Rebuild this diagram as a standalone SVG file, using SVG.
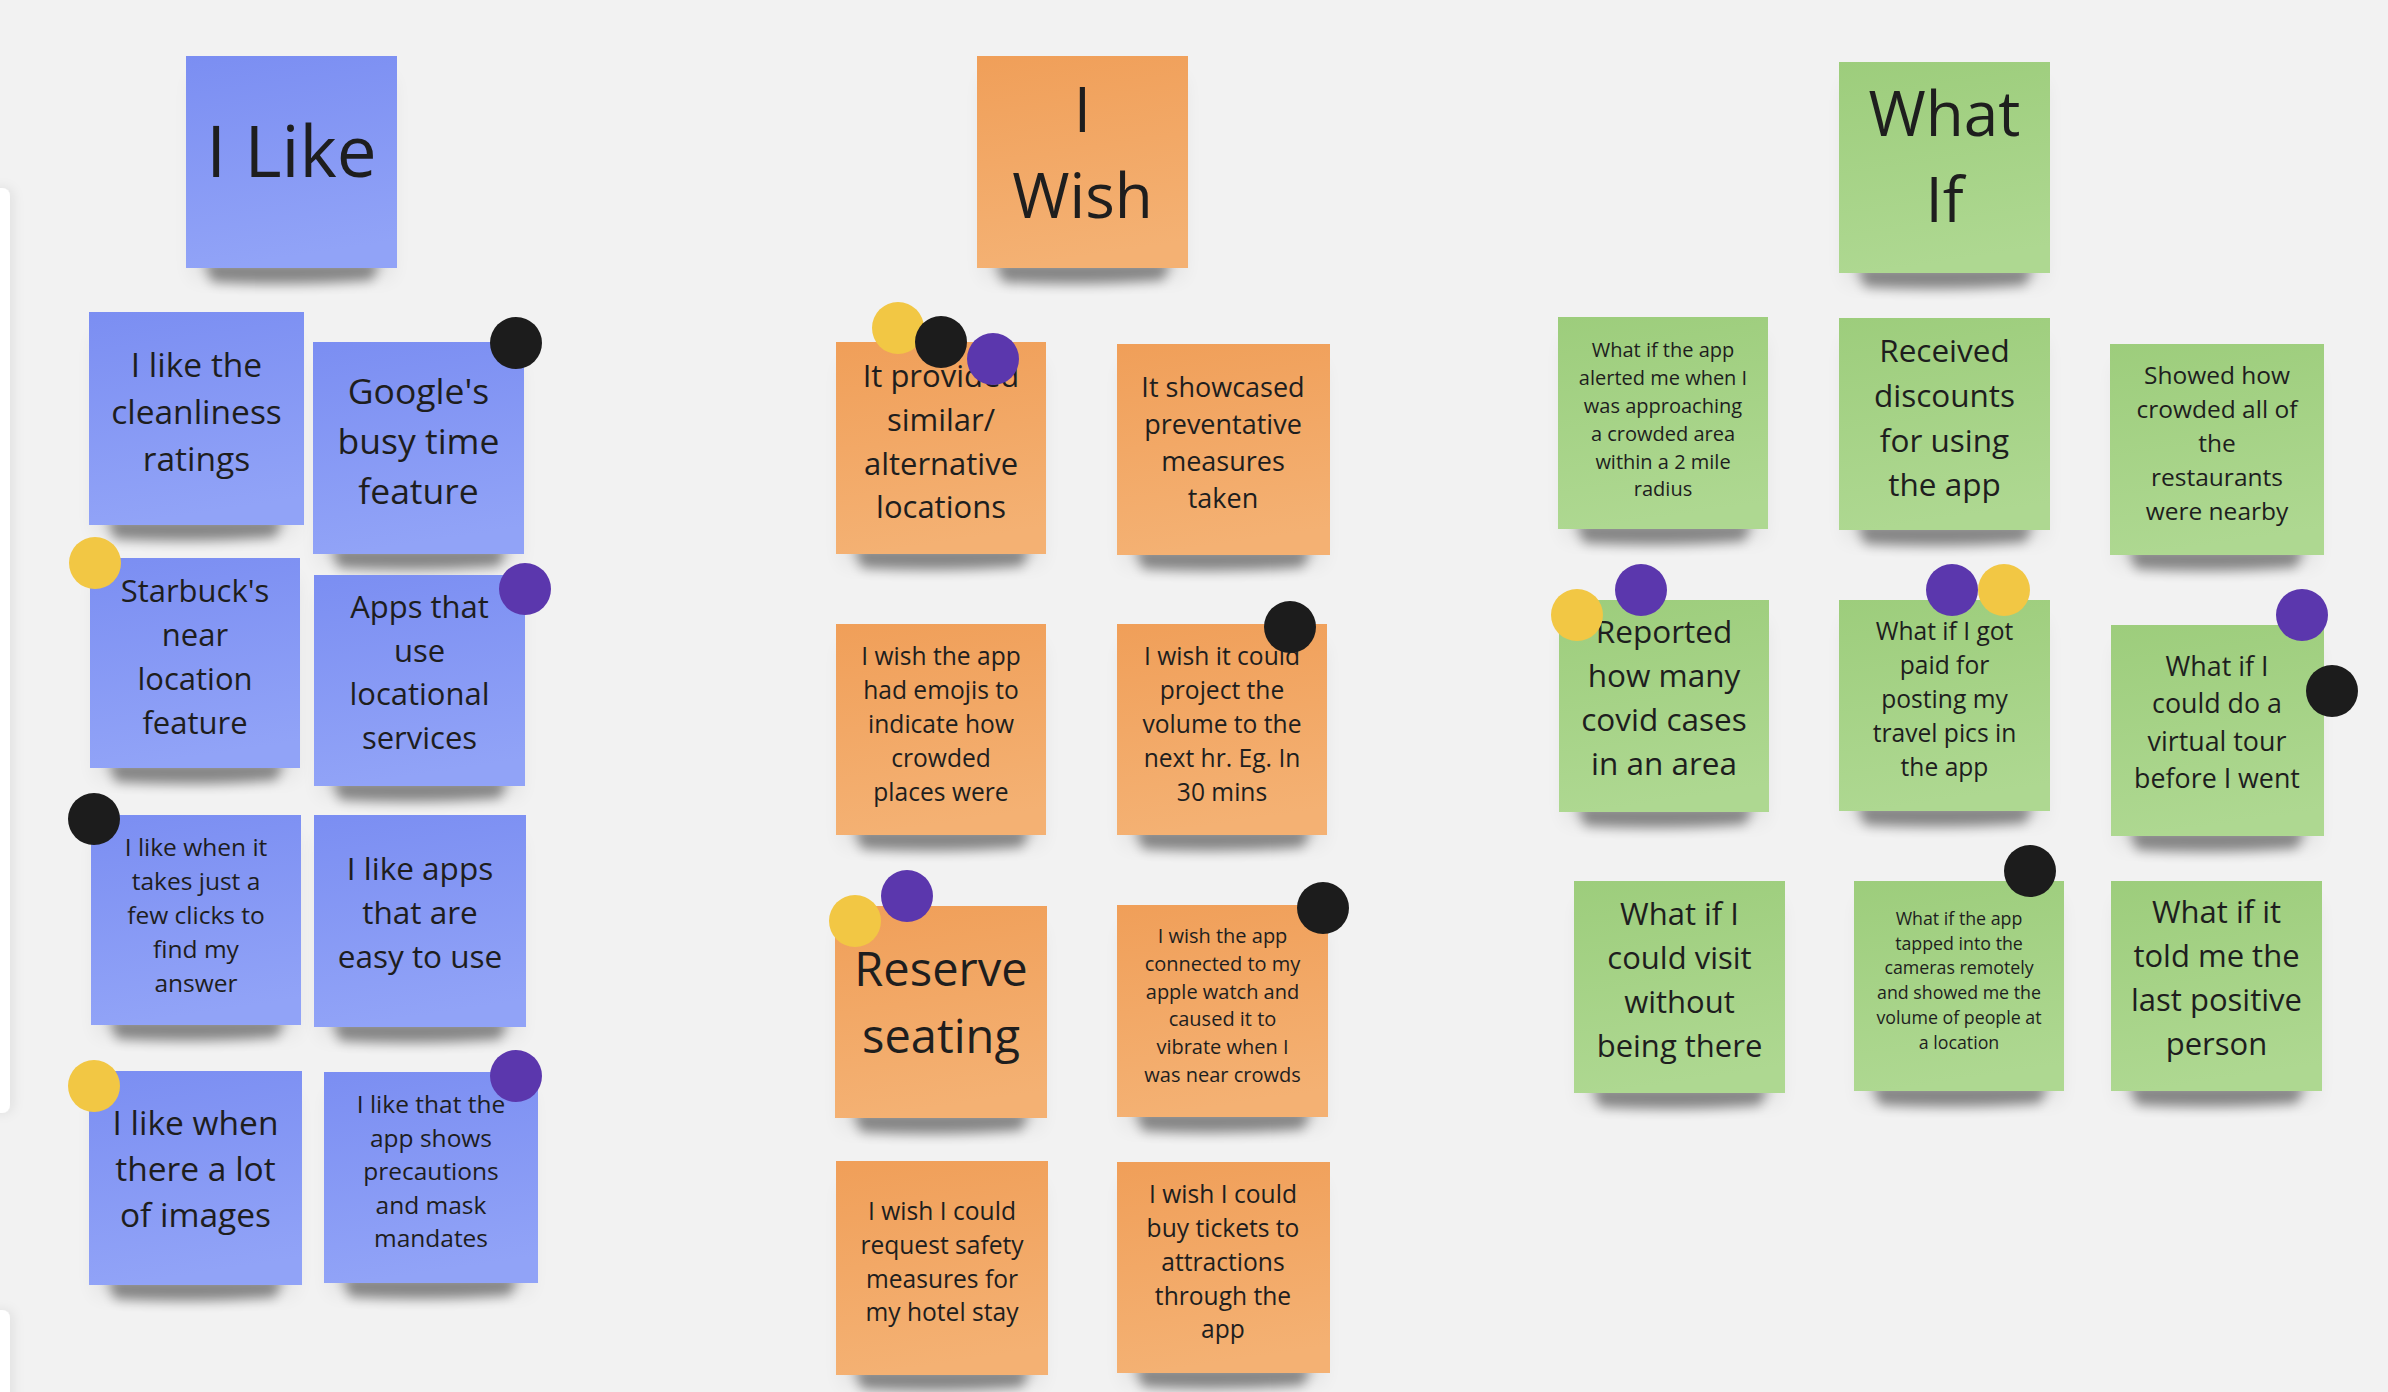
<svg xmlns="http://www.w3.org/2000/svg" xmlns:xlink="http://www.w3.org/1999/xlink" width="2388" height="1392" viewBox="0 0 2388 1392">
  <style>
    .t { font-family: "Open Sans", "Noto Sans", "Liberation Sans", sans-serif; fill: #1e1e1e; text-anchor: middle; }
    .blue { fill: url(#gBlue); }
    .orange { fill: url(#gOrange); }
    .green { fill: url(#gGreen); }
    .sh { fill: #000; opacity: 0.42; filter: url(#blurShadow); }
    .halo { fill: #000; opacity: 0.07; filter: url(#blurHalo); }
    .y { fill: #f2c744; }
    .k { fill: #1c1c1c; }
    .p { fill: #5b37ad; }
    .panel { fill: #ffffff; filter: url(#panelShadow); }
  </style>
  <defs>
    <linearGradient id="gBlue" x1="0" y1="0" x2="0.15" y2="1">
      <stop offset="0" stop-color="#7b8ef2"/>
      <stop offset="1" stop-color="#91a3f7"/>
    </linearGradient>
    <linearGradient id="gOrange" x1="0" y1="0" x2="0.15" y2="1">
      <stop offset="0" stop-color="#f09f59"/>
      <stop offset="1" stop-color="#f4b173"/>
    </linearGradient>
    <linearGradient id="gGreen" x1="0" y1="0" x2="0.15" y2="1">
      <stop offset="0" stop-color="#9dcd7c"/>
      <stop offset="1" stop-color="#aed891"/>
    </linearGradient>
    <filter id="blurShadow" x="-20%" y="-100%" width="140%" height="300%">
      <feGaussianBlur stdDeviation="6"/>
    </filter>
    <filter id="blurHalo" x="-30%" y="-30%" width="160%" height="160%">
      <feGaussianBlur stdDeviation="10"/>
    </filter>
    <filter id="panelShadow" x="-100%" y="-10%" width="400%" height="120%">
      <feDropShadow dx="3" dy="0" stdDeviation="6" flood-color="#000" flood-opacity="0.08"/>
    </filter>
    <!-- curled-bottom shadow, anchored at the note's bottom-left corner -->
    <path id="shd" d="M18,-6 H194 L186,12 Q108,19 26,14 Z"/>
    <rect id="hal" x="6" y="-190" width="200" height="200"/>
  </defs>

  <rect width="2388" height="1392" fill="#f2f2f2"/>

  <!-- side panels at the left edge -->
  <rect class="panel" x="-14" y="188" width="24" height="925" rx="8"/>
  <rect class="panel" x="-14" y="1310" width="24" height="140" rx="8"/>

  <!-- I Like column -->
  <g id="i-like">
    <use href="#hal" x="186" y="268" class="halo"/><use href="#shd" x="186" y="268" class="sh"/>
    <rect class="blue" x="186" y="56" width="211" height="212"/>
    <text class="t" style="font-size:71px" x="291.5" y="177">I Like</text>
  </g>
  <g id="like-cleanliness">
    <use href="#hal" x="89" y="525" class="halo"/><use href="#shd" x="89" y="525" class="sh"/>
    <rect class="blue" x="89" y="312" width="215" height="213"/>
    <text class="t" style="font-size:33.5px"><tspan x="196.5" y="377">I like the</tspan><tspan x="196.5" y="424">cleanliness</tspan><tspan x="196.5" y="471">ratings</tspan></text>
  </g>
  <g id="like-busy-time">
    <use href="#hal" x="313" y="554" class="halo"/><use href="#shd" x="313" y="554" class="sh"/>
    <rect class="blue" x="313" y="342" width="211" height="212"/>
    <text class="t" style="font-size:35.5px"><tspan x="418.5" y="404">Google's</tspan><tspan x="418.5" y="454">busy time</tspan><tspan x="418.5" y="504">feature</tspan></text>
    <circle class="k" cx="516" cy="343" r="26"/>
  </g>
  <g id="like-starbucks">
    <use href="#hal" x="90" y="768" class="halo"/><use href="#shd" x="90" y="768" class="sh"/>
    <rect class="blue" x="90" y="558" width="210" height="210"/>
    <text class="t" style="font-size:31px"><tspan x="195" y="602">Starbuck's</tspan><tspan x="195" y="646">near</tspan><tspan x="195" y="690">location</tspan><tspan x="195" y="734">feature</tspan></text>
    <circle class="y" cx="95" cy="563" r="26"/>
  </g>
  <g id="like-locational">
    <use href="#hal" x="314" y="786" class="halo"/><use href="#shd" x="314" y="786" class="sh"/>
    <rect class="blue" x="314" y="575" width="211" height="211"/>
    <text class="t" style="font-size:31px"><tspan x="419.5" y="618">Apps that</tspan><tspan x="419.5" y="662">use</tspan><tspan x="419.5" y="705">locational</tspan><tspan x="419.5" y="749">services</tspan></text>
    <circle class="p" cx="525" cy="589" r="26"/>
  </g>
  <g id="like-few-clicks">
    <use href="#hal" x="91" y="1025" class="halo"/><use href="#shd" x="91" y="1025" class="sh"/>
    <rect class="blue" x="91" y="815" width="210" height="210"/>
    <text class="t" style="font-size:24.5px"><tspan x="196" y="856">I like when it</tspan><tspan x="196" y="890">takes just a</tspan><tspan x="196" y="924">few clicks to</tspan><tspan x="196" y="958">find my</tspan><tspan x="196" y="992">answer</tspan></text>
    <circle class="k" cx="94" cy="819" r="26"/>
  </g>
  <g id="like-easy">
    <use href="#hal" x="314" y="1027" class="halo"/><use href="#shd" x="314" y="1027" class="sh"/>
    <rect class="blue" x="314" y="815" width="212" height="212"/>
    <text class="t" style="font-size:31.5px"><tspan x="420" y="880">I like apps</tspan><tspan x="420" y="924">that are</tspan><tspan x="420" y="968">easy to use</tspan></text>
  </g>
  <g id="like-images">
    <use href="#hal" x="89" y="1285" class="halo"/><use href="#shd" x="89" y="1285" class="sh"/>
    <rect class="blue" x="89" y="1071" width="213" height="214"/>
    <text class="t" style="font-size:33.5px"><tspan x="195.5" y="1135">I like when</tspan><tspan x="195.5" y="1181">there a lot</tspan><tspan x="195.5" y="1227">of images</tspan></text>
    <circle class="y" cx="94" cy="1086" r="26"/>
  </g>
  <g id="like-precautions">
    <use href="#hal" x="324" y="1283" class="halo"/><use href="#shd" x="324" y="1283" class="sh"/>
    <rect class="blue" x="324" y="1072" width="214" height="211"/>
    <text class="t" style="font-size:24.5px"><tspan x="431" y="1113">I like that the</tspan><tspan x="431" y="1147">app shows</tspan><tspan x="431" y="1180">precautions</tspan><tspan x="431" y="1214">and mask</tspan><tspan x="431" y="1247">mandates</tspan></text>
    <circle class="p" cx="516" cy="1076" r="26"/>
  </g>

  <!-- I Wish column -->
  <g id="i-wish">
    <use href="#hal" x="977" y="268" class="halo"/><use href="#shd" x="977" y="268" class="sh"/>
    <rect class="orange" x="977" y="56" width="211" height="212"/>
    <text class="t" style="font-size:62px"><tspan x="1082.5" y="132">I</tspan><tspan x="1082.5" y="218">Wish</tspan></text>
  </g>
  <g id="wish-alternatives">
    <use href="#hal" x="836" y="554" class="halo"/><use href="#shd" x="836" y="554" class="sh"/>
    <rect class="orange" x="836" y="342" width="210" height="212"/>
    <text class="t" style="font-size:31px"><tspan x="941" y="387">It provided</tspan><tspan x="941" y="431">similar/</tspan><tspan x="941" y="475">alternative</tspan><tspan x="941" y="518">locations</tspan></text>
    <circle class="y" cx="898" cy="328" r="26"/>
    <circle class="k" cx="941" cy="342" r="26"/>
    <circle class="p" cx="993" cy="359" r="26"/>
  </g>
  <g id="wish-preventative">
    <use href="#hal" x="1117" y="555" class="halo"/><use href="#shd" x="1117" y="555" class="sh"/>
    <rect class="orange" x="1117" y="344" width="213" height="211"/>
    <text class="t" style="font-size:27px"><tspan x="1223" y="397">It showcased</tspan><tspan x="1223" y="434">preventative</tspan><tspan x="1223" y="471">measures</tspan><tspan x="1223" y="508">taken</tspan></text>
  </g>
  <g id="wish-emojis">
    <use href="#hal" x="836" y="835" class="halo"/><use href="#shd" x="836" y="835" class="sh"/>
    <rect class="orange" x="836" y="624" width="210" height="211"/>
    <text class="t" style="font-size:24.6px"><tspan x="941" y="665">I wish the app</tspan><tspan x="941" y="699">had emojis to</tspan><tspan x="941" y="733">indicate how</tspan><tspan x="941" y="767">crowded</tspan><tspan x="941" y="801">places were</tspan></text>
  </g>
  <g id="wish-project">
    <use href="#hal" x="1117" y="835" class="halo"/><use href="#shd" x="1117" y="835" class="sh"/>
    <rect class="orange" x="1117" y="624" width="210" height="211"/>
    <text class="t" style="font-size:24.6px"><tspan x="1222" y="665">I wish it could</tspan><tspan x="1222" y="699">project the</tspan><tspan x="1222" y="733">volume to the</tspan><tspan x="1222" y="767">next hr. Eg. In</tspan><tspan x="1222" y="801">30 mins</tspan></text>
    <circle class="k" cx="1290" cy="627" r="26"/>
  </g>
  <g id="wish-reserve">
    <use href="#hal" x="835" y="1118" class="halo"/><use href="#shd" x="835" y="1118" class="sh"/>
    <rect class="orange" x="835" y="906" width="212" height="212"/>
    <text class="t" style="font-size:47px"><tspan x="941" y="986">Reserve</tspan><tspan x="941" y="1053">seating</tspan></text>
    <circle class="p" cx="907" cy="896" r="26"/>
    <circle class="y" cx="855" cy="921" r="26"/>
  </g>
  <g id="wish-apple-watch">
    <use href="#hal" x="1117" y="1117" class="halo"/><use href="#shd" x="1117" y="1117" class="sh"/>
    <rect class="orange" x="1117" y="905" width="211" height="212"/>
    <text class="t" style="font-size:20px"><tspan x="1222.5" y="943">I wish the app</tspan><tspan x="1222.5" y="971">connected to my</tspan><tspan x="1222.5" y="999">apple watch and</tspan><tspan x="1222.5" y="1026">caused it to</tspan><tspan x="1222.5" y="1054">vibrate when I</tspan><tspan x="1222.5" y="1082">was near crowds</tspan></text>
    <circle class="k" cx="1323" cy="908" r="26"/>
  </g>
  <g id="wish-safety">
    <use href="#hal" x="836" y="1375" class="halo"/><use href="#shd" x="836" y="1375" class="sh"/>
    <rect class="orange" x="836" y="1161" width="212" height="214"/>
    <text class="t" style="font-size:24.6px"><tspan x="942" y="1220">I wish I could</tspan><tspan x="942" y="1254">request safety</tspan><tspan x="942" y="1288">measures for</tspan><tspan x="942" y="1321">my hotel stay</tspan></text>
  </g>
  <g id="wish-tickets">
    <use href="#hal" x="1117" y="1373" class="halo"/><use href="#shd" x="1117" y="1373" class="sh"/>
    <rect class="orange" x="1117" y="1162" width="213" height="211"/>
    <text class="t" style="font-size:24.6px"><tspan x="1223" y="1203">I wish I could</tspan><tspan x="1223" y="1237">buy tickets to</tspan><tspan x="1223" y="1271">attractions</tspan><tspan x="1223" y="1305">through the</tspan><tspan x="1223" y="1338">app</tspan></text>
  </g>

  <!-- What If column -->
  <g id="what-if">
    <use href="#hal" x="1839" y="273" class="halo"/><use href="#shd" x="1839" y="273" class="sh"/>
    <rect class="green" x="1839" y="62" width="211" height="211"/>
    <text class="t" style="font-size:62px"><tspan x="1944.5" y="136">What</tspan><tspan x="1944.5" y="222">If</tspan></text>
  </g>
  <g id="what-if-alert">
    <use href="#hal" x="1558" y="529" class="halo"/><use href="#shd" x="1558" y="529" class="sh"/>
    <rect class="green" x="1558" y="317" width="210" height="212"/>
    <text class="t" style="font-size:20px"><tspan x="1663" y="357">What if the app</tspan><tspan x="1663" y="385">alerted me when I</tspan><tspan x="1663" y="413">was approaching</tspan><tspan x="1663" y="441">a crowded area</tspan><tspan x="1663" y="469">within a 2 mile</tspan><tspan x="1663" y="496">radius</tspan></text>
  </g>
  <g id="what-if-discounts">
    <use href="#hal" x="1839" y="530" class="halo"/><use href="#shd" x="1839" y="530" class="sh"/>
    <rect class="green" x="1839" y="318" width="211" height="212"/>
    <text class="t" style="font-size:31.5px"><tspan x="1944.5" y="362">Received</tspan><tspan x="1944.5" y="407">discounts</tspan><tspan x="1944.5" y="452">for using</tspan><tspan x="1944.5" y="496">the app</tspan></text>
  </g>
  <g id="what-if-crowded">
    <use href="#hal" x="2110" y="555" class="halo"/><use href="#shd" x="2110" y="555" class="sh"/>
    <rect class="green" x="2110" y="344" width="214" height="211"/>
    <text class="t" style="font-size:24.5px"><tspan x="2217" y="384">Showed how</tspan><tspan x="2217" y="418">crowded all of</tspan><tspan x="2217" y="452">the</tspan><tspan x="2217" y="486">restaurants</tspan><tspan x="2217" y="520">were nearby</tspan></text>
  </g>
  <g id="what-if-covid">
    <use href="#hal" x="1559" y="812" class="halo"/><use href="#shd" x="1559" y="812" class="sh"/>
    <rect class="green" x="1559" y="600" width="210" height="212"/>
    <text class="t" style="font-size:31.5px"><tspan x="1664" y="643">Reported</tspan><tspan x="1664" y="687">how many</tspan><tspan x="1664" y="731">covid cases</tspan><tspan x="1664" y="775">in an area</tspan></text>
    <circle class="p" cx="1641" cy="590" r="26"/>
    <circle class="y" cx="1577" cy="615" r="26"/>
  </g>
  <g id="what-if-paid">
    <use href="#hal" x="1839" y="811" class="halo"/><use href="#shd" x="1839" y="811" class="sh"/>
    <rect class="green" x="1839" y="600" width="211" height="211"/>
    <text class="t" style="font-size:24.6px"><tspan x="1944.5" y="640">What if I got</tspan><tspan x="1944.5" y="674">paid for</tspan><tspan x="1944.5" y="708">posting my</tspan><tspan x="1944.5" y="742">travel pics in</tspan><tspan x="1944.5" y="776">the app</tspan></text>
    <circle class="p" cx="1952" cy="590" r="26"/>
    <circle class="y" cx="2004" cy="590" r="26"/>
  </g>
  <g id="what-if-virtual-tour">
    <use href="#hal" x="2111" y="836" class="halo"/><use href="#shd" x="2111" y="836" class="sh"/>
    <rect class="green" x="2111" y="625" width="213" height="211"/>
    <text class="t" style="font-size:26.8px"><tspan x="2217" y="676">What if I</tspan><tspan x="2217" y="713">could do a</tspan><tspan x="2217" y="751">virtual tour</tspan><tspan x="2217" y="788">before I went</tspan></text>
    <circle class="p" cx="2302" cy="615" r="26"/>
    <circle class="k" cx="2332" cy="691" r="26"/>
  </g>
  <g id="what-if-visit">
    <use href="#hal" x="1574" y="1093" class="halo"/><use href="#shd" x="1574" y="1093" class="sh"/>
    <rect class="green" x="1574" y="881" width="211" height="212"/>
    <text class="t" style="font-size:31px"><tspan x="1679.5" y="925">What if I</tspan><tspan x="1679.5" y="969">could visit</tspan><tspan x="1679.5" y="1013">without</tspan><tspan x="1679.5" y="1057">being there</tspan></text>
  </g>
  <g id="what-if-cameras">
    <use href="#hal" x="1854" y="1091" class="halo"/><use href="#shd" x="1854" y="1091" class="sh"/>
    <rect class="green" x="1854" y="881" width="210" height="210"/>
    <text class="t" style="font-size:17.8px"><tspan x="1959" y="925">What if the app</tspan><tspan x="1959" y="950">tapped into the</tspan><tspan x="1959" y="974">cameras remotely</tspan><tspan x="1959" y="999">and showed me the</tspan><tspan x="1959" y="1024">volume of people at</tspan><tspan x="1959" y="1049">a location</tspan></text>
    <circle class="k" cx="2030" cy="871" r="26"/>
  </g>
  <g id="what-if-last-positive">
    <use href="#hal" x="2111" y="1091" class="halo"/><use href="#shd" x="2111" y="1091" class="sh"/>
    <rect class="green" x="2111" y="881" width="211" height="210"/>
    <text class="t" style="font-size:31px"><tspan x="2216.5" y="923">What if it</tspan><tspan x="2216.5" y="967">told me the</tspan><tspan x="2216.5" y="1011">last positive</tspan><tspan x="2216.5" y="1055">person</tspan></text>
  </g>
</svg>
